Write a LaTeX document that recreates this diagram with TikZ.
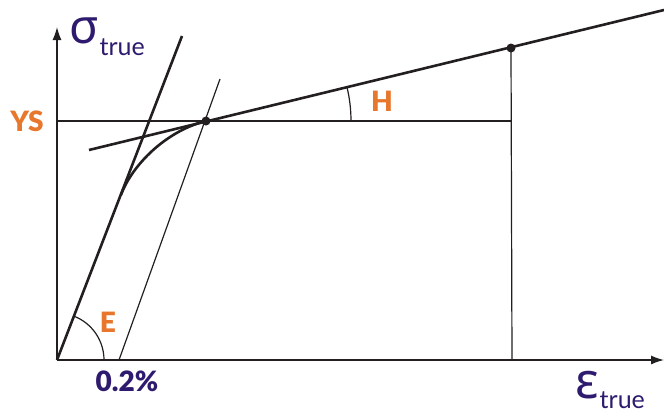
\documentclass[tikz,border=0pt]{standalone}
\usepackage{fontspec}
\setmainfont{Lato}
\newfontfamily\heavyfont{Lato Black}
\newfontfamily\greekfont{Noto Sans}
\usetikzlibrary{arrows.meta}
\definecolor{lineblack}{HTML}{231F20}
\definecolor{labelorange}{HTML}{E8772E}
\definecolor{labelblue}{HTML}{2E1A6E}
\tikzset{
  thinline/.style={draw=lineblack, line width=1.2pt},
  thickline/.style={draw=lineblack, line width=2.6pt},
  axisline/.style={draw=lineblack, line width=1.3pt, -{Latex[length=13pt,width=9pt]}},
  dotmark/.style={circle, fill=lineblack, inner sep=0pt, minimum size=9pt},
  orangelabel/.style={text=labelorange, font=\heavyfont\fontsize{28}{28}\selectfont, inner sep=0pt},
  bluelabel/.style={text=labelblue, font=\heavyfont\fontsize{28}{28}\selectfont, inner sep=0pt},
}
\begin{document}
\begin{tikzpicture}[x=1pt, y=-1pt]
\useasboundingbox (0,0) rectangle (664,415);
% key points
\coordinate (O) at (57,360);
\coordinate (ytip) at (57,27);
\coordinate (xtip) at (664,360);
\coordinate (Etop) at (182,36);
\coordinate (offs) at (119,360);
\coordinate (offtop) at (220,79);
\coordinate (Hleft) at (89,150);
\coordinate (Hright) at (664,10);
\coordinate (P1) at (121,195);
\coordinate (YSleft) at (57,121);
\coordinate (YSright) at (512,121);
\coordinate (Vbot) at (512,360);
\node[dotmark] (D) at (206,121) {};
\node[dotmark] (D2) at (511,48) {};
% axes
\draw[axisline] (O) -- (ytip);
\draw[axisline] (O) -- (xtip);
% thin lines
\draw[thinline] (YSleft) -- (YSright);
\draw[thinline] (Vbot) -- (D2.center);
\draw[thinline] (offs) -- (offtop);
% thick lines
\draw[thickline] (O) -- (Etop);
\draw[thickline] (Hleft) -- (Hright);
\draw[thickline] (P1) .. controls (132,165) and (166,131) .. (D.center);
% angle arcs
\draw[thinline] ([shift={(0:145)}]D.center) arc[start angle=0, end angle=-13.6, radius=145];
\draw[thinline] ([shift={(0:47)}]O) arc[start angle=0, end angle=-68.8, radius=47];
% labels
\node[orangelabel] (YS) at (27,121) {YS};
\node[orangelabel] (E) at (108,322) {E};
\node[orangelabel] (H) at (382,101) {H};
\node[bluelabel] (p02) at (127,381) {0.2\%};
\node[text=labelblue, inner sep=0pt, anchor=base west] (sig) at (69,43)
  {{\greekfont\fontsize{48}{48}\selectfont σ}\hspace{1pt}\raisebox{-12pt}{\fontsize{25}{25}\selectfont true}};
\node[text=labelblue, inner sep=0pt, anchor=base west] (eps) at (575,398)
  {{\greekfont\fontsize{50}{50}\selectfont ε}\hspace{1pt}\raisebox{-10pt}{\fontsize{25}{25}\selectfont true}};
\end{tikzpicture}
\end{document}
